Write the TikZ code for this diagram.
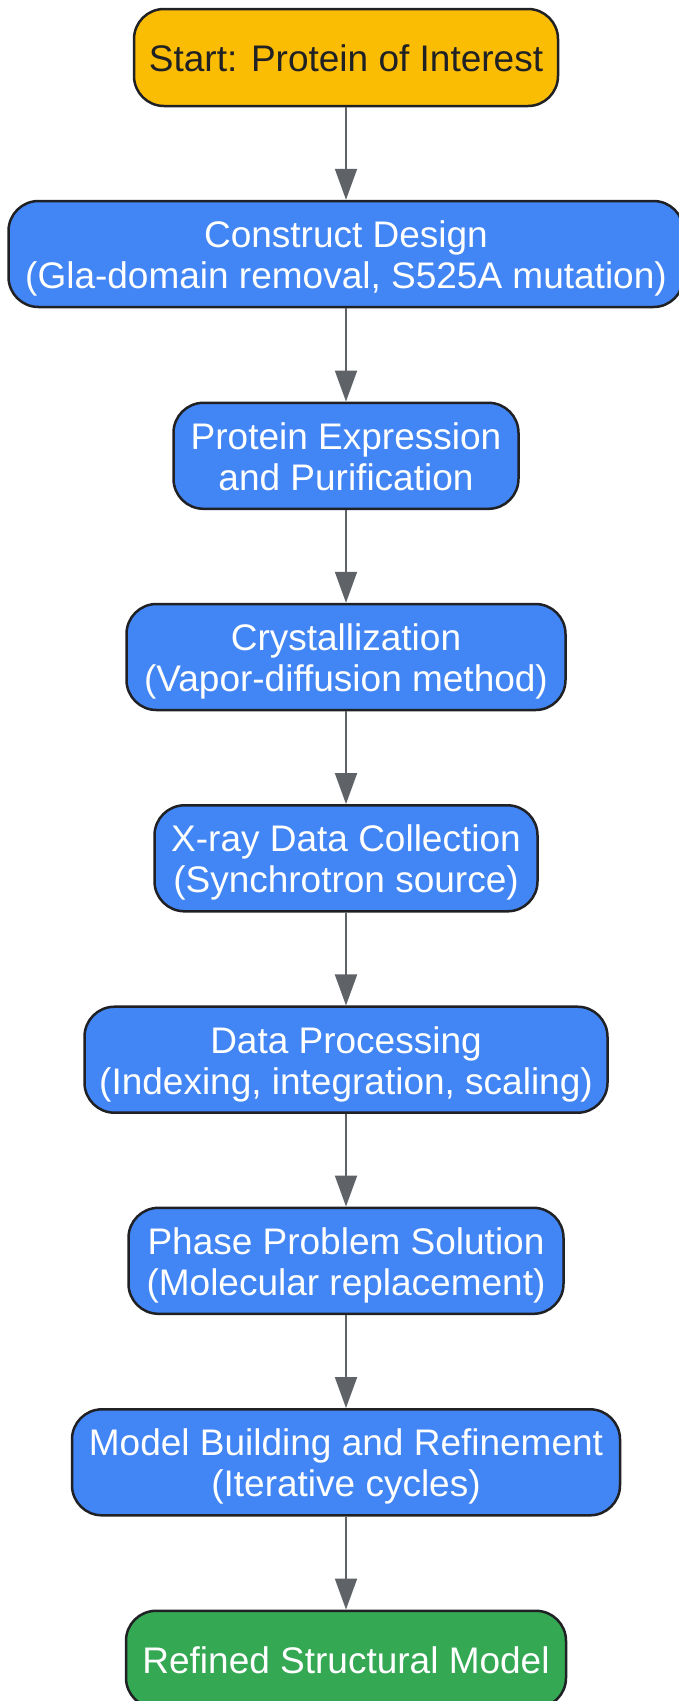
\documentclass[tikz,border=0pt]{standalone}
\usepackage{fontspec}
\setmainfont{Liberation Sans}
\usetikzlibrary{arrows.meta}
\definecolor{gyellow}{HTML}{FBBC04}
\definecolor{gblue}{HTML}{4285F4}
\definecolor{ggreen}{HTML}{34A853}
\definecolor{gborder}{HTML}{202124}
\definecolor{garrow}{HTML}{5F6368}
\newcommand\mytop{\rule{0pt}{37pt}}
\newcommand\mybot{\rule[-9pt]{0pt}{9pt}}
\tikzset{
  stepbox/.style={rectangle, rounded corners=30pt, draw=gborder, line width=2.5pt,
    inner sep=0pt, align=center, text=white, fill=gblue,
    font=\fontsize{37}{41}\selectfont},
  startbox/.style={stepbox, fill=gyellow, text=gborder},
  endbox/.style={stepbox, fill=ggreen},
  flow/.style={draw=garrow, line width=2pt, -{Triangle[width=22pt,length=31pt]}}
}
\begin{document}
\begin{tikzpicture}[x=1pt,y=1pt]
\useasboundingbox (0,0) rectangle (679,-1701);
\clip (0,0) rectangle (679,-1701);
\node[startbox, minimum width=424pt, minimum height=97pt] (start) at (346,-57.5) {\mytop\mybot Start: Protein of Interest};
\node[stepbox, minimum width=675pt, minimum height=106pt] (construct) at (346,-254) {\mytop Construct Design\\(Gla-domain removal, S525A mutation)\mybot};
\node[stepbox, minimum width=345pt, minimum height=106pt] (expr) at (346,-455.8) {\mytop Protein Expression\\and Purification\mybot};
\node[stepbox, minimum width=439pt, minimum height=106pt] (cryst) at (346,-657) {\mytop Crystallization\\(Vapor-diffusion method)\mybot};
\node[stepbox, minimum width=383pt, minimum height=106pt] (xray) at (346,-858.3) {\mytop X-ray Data Collection\\(Synchrotron source)\mybot};
\node[stepbox, minimum width=523pt, minimum height=106pt] (proc) at (346,-1059.7) {\mytop Data Processing\\(Indexing, integration, scaling)\mybot};
\node[stepbox, minimum width=435pt, minimum height=106pt] (phase) at (346,-1260.8) {\mytop Phase Problem Solution\\(Molecular replacement)\mybot};
\node[stepbox, minimum width=548pt, minimum height=106pt] (model) at (346,-1462.3) {\mytop Model Building and Refinement\\(Iterative cycles)\mybot};
\node[endbox, minimum width=440pt, minimum height=97pt] (refined) at (346,-1659.3) {\mytop\mybot Refined Structural Model};
\draw[flow] (start) -- (construct);
\draw[flow] (construct) -- (expr);
\draw[flow] (expr) -- (cryst);
\draw[flow] (cryst) -- (xray);
\draw[flow] (xray) -- (proc);
\draw[flow] (proc) -- (phase);
\draw[flow] (phase) -- (model);
\draw[flow] (model) -- (refined);
\end{tikzpicture}
\end{document}
